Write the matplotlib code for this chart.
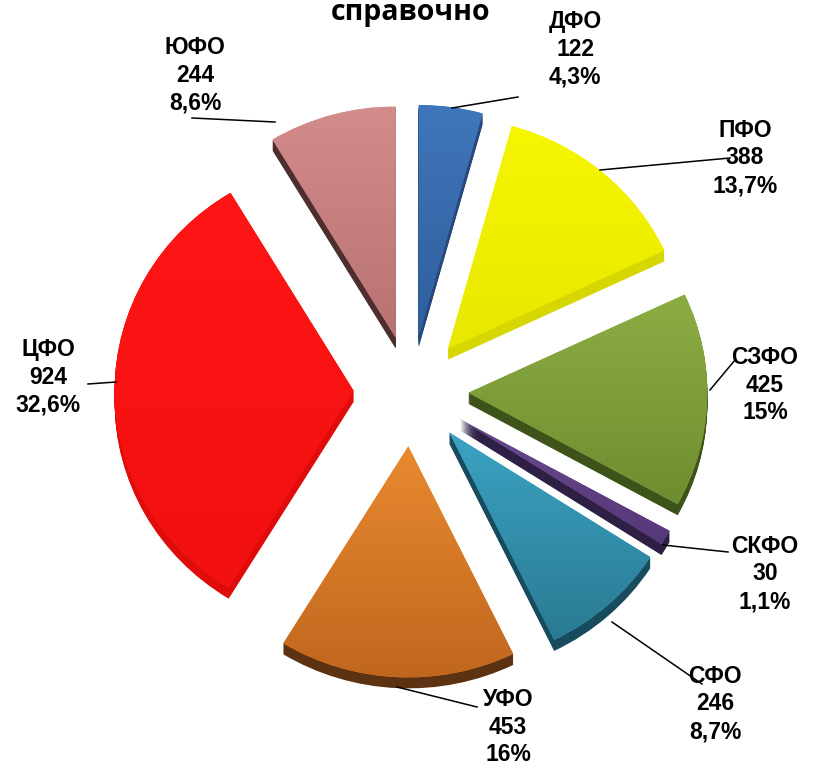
import numpy as np
import matplotlib
matplotlib.use("Agg")
import matplotlib.pyplot as plt
from matplotlib.patches import Wedge
from matplotlib.transforms import Affine2D
from matplotlib.colors import to_rgb

# ── Данные ─────────────────────────────────────────────────────────────────────
regions = ["ДФО", "ПФО", "СЗФО", "СКФО", "СФО", "УФО", "ЦФО", "ЮФО"]
counts  = [122, 388, 425, 30, 246, 453, 924, 244]
shares  = ["4,3%", "13,7%", "15%", "1,1%", "8,7%", "16%", "32,6%", "8,6%"]

# цвета: верх грани, низ грани (градиент), боковая стенка
top_col  = ["#4076bb", "#f6f600", "#8dad44", "#6a4a8e", "#3ba3c3",
            "#e98a30", "#ff1515", "#d28c8c"]
bot_col  = ["#2f5e9c", "#e8e800", "#6e8d30", "#553878", "#2a7a92",
            "#c0661e", "#f21010", "#b87272"]
side_col = ["#27487c", "#d6d600", "#3e531a", "#2e1f45", "#174b5d",
            "#5c3212", "#e00c0c", "#4e2e2e"]

# позиции подписей (px) и концы выносных линий
label_xy = [(575, 49), (745, 158), (765, 385), (765, 574),
            (715, 704), (508, 727), (48, 377), (195, 75)]
leaders  = [((452, 108), (518, 97)), ((600, 170), (730, 158)),
            ((710, 390), (735, 360)), ((663, 545), (728, 552)),
            ((612, 622), (702, 684)), ((397, 687), (477, 707)),
            ((116, 382), (88, 384)), ((275, 122), (192, 118))]

W, H = 818, 769
cx, cy = 411, 391
Rx, Ry = 239, 231
explode = 0.24
depth = 11

fig = plt.figure(figsize=(W / 100, H / 100), dpi=100)
ax = fig.add_axes([0, 0, 1, 1])

total = sum(counts)
angles = np.cumsum([0] + counts) / total * 360.0
base = Affine2D().scale(Rx, Ry).translate(cx, cy)

# вертикальный градиент 0..1
ramp = np.linspace(0, 1, 256)[:, None]

faces = []
for i in range(len(counts)):
    t1 = -90 + angles[i]
    t2 = -90 + angles[i + 1]
    mid = np.deg2rad((t1 + t2) / 2)
    off = (explode * np.cos(mid), explode * np.sin(mid))
    # боковая стенка: стопка копий, сдвинутых вниз
    for k in np.linspace(depth, 1, 12):
        ax.add_patch(Wedge(off, 1.0, t1, t2, facecolor=side_col[i],
                           edgecolor="none", zorder=1,
                           transform=base + Affine2D().translate(0, k) + ax.transData))
    faces.append((i, off, t1, t2))

for i, off, t1, t2 in faces:
    face = Wedge(off, 1.0, t1, t2, facecolor=top_col[i], edgecolor="none",
                 zorder=2, transform=base + ax.transData)
    ax.add_patch(face)
    verts = base.transform(face.get_path().vertices)
    x0, y0 = verts.min(axis=0)
    x1, y1 = verts.max(axis=0)
    c0, c1 = np.array(to_rgb(top_col[i])), np.array(to_rgb(bot_col[i]))
    img = c0[None, None, :] * (1 - ramp[:, :, None]) + c1[None, None, :] * ramp[:, :, None]
    im = ax.imshow(img, extent=(x0, x1, y1, y0), origin="upper",
                   aspect="auto", zorder=3, interpolation="bilinear")
    im.set_clip_path(face)

font = ["Liberation Sans", "DejaVu Sans"]
for i, name in enumerate(regions):
    x, y = label_xy[i]
    ax.text(x, y, f"{name}\n{counts[i]}\n{shares[i]}", ha="center", va="center",
            fontsize=16.5, fontweight="bold", family=font, linespacing=1.27,
            zorder=5)
    (x1, y1), (x2, y2) = leaders[i]
    ax.plot([x1, x2], [y1, y2], color="black", lw=1.1, zorder=5)

ax.text(411, 20, "справочно", ha="center", va="baseline", fontsize=20.5,
        fontweight="bold", family=["Open Sans", "DejaVu Sans"], zorder=5)

ax.set_xlim(0, W)
ax.set_ylim(H, 0)
ax.axis("off")

fig.savefig("out.png", dpi=100)
